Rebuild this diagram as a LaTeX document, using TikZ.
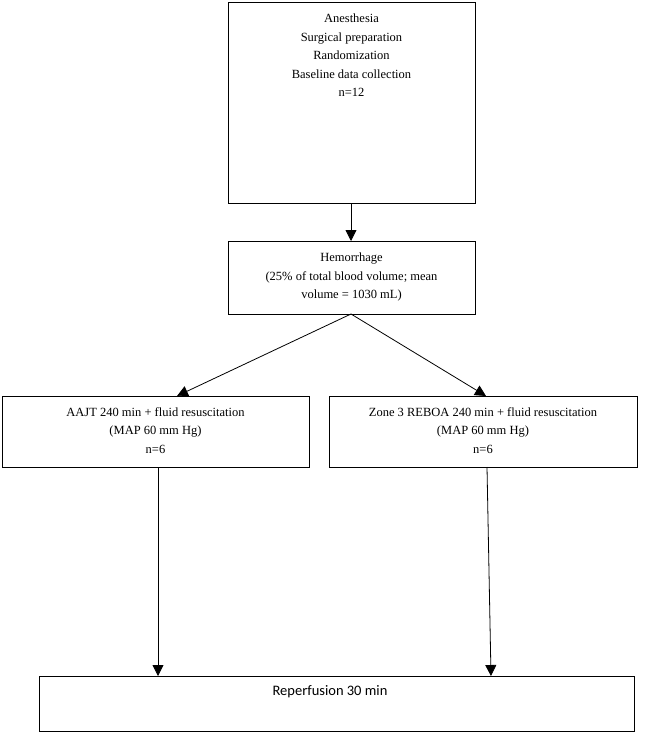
\documentclass[tikz,border=0pt]{standalone}
\usepackage{fontspec}
\setmainfont{Liberation Serif}
\newfontfamily\sansf{Carlito}
\usetikzlibrary{arrows.meta}
\begin{document}
\begin{tikzpicture}[x=1pt,y=-1pt,
  box/.style={draw,line width=0.9pt},
  txt/.style={font=\fontsize{12.5}{18.5}\selectfont,align=center,inner sep=0pt},
  arr/.style={line width=0.8pt,-{Triangle[width=11pt,length=11pt]}}]
\useasboundingbox (0,0) rectangle (646,733);
\draw[box] (228,2) rectangle (475,203);
\node[txt,anchor=north] (t) at (351.5,14) {Anesthesia\\Surgical preparation\\Randomization\\Baseline data collection\\n=12};
\draw[box] (228,241) rectangle (475,314);
\node[txt,anchor=north] (h) at (351.5,253) {Hemorrhage\\(25\% of total blood volume; mean\\volume = 1030 mL)};
\draw[box] (2,396) rectangle (309,467);
\node[txt,anchor=north] (l) at (155.5,407) {AAJT 240 min + fluid resuscitation\\(MAP 60 mm Hg)\\n=6};
\draw[box] (329,396) rectangle (637,467);
\node[txt,anchor=north] (r) at (483,407) {Zone 3 REBOA 240 min + fluid resuscitation\\(MAP 60 mm Hg)\\n=6};
\draw[box] (39,676) rectangle (634,731);
\node[txt,font=\sansf\fontsize{14.5}{16}\selectfont] (b) at (330,692) {Reperfusion 30 min};
\coordinate (t1) at (351,203); \coordinate (t2) at (351,241);
\coordinate (h1) at (351,314); \coordinate (l0) at (177,396); \coordinate (r0) at (486,396);
\coordinate (l1) at (158,467); \coordinate (l2) at (158,676);
\coordinate (r1) at (487,467); \coordinate (r2) at (491,676);
\draw[arr] (t1) -- (t2);
\draw[arr] (h1) -- (l0);
\draw[arr] (h1) -- (r0);
\draw[arr] (l1) -- (l2);
\draw[arr] (r1) -- (r2);
\end{tikzpicture}
\end{document}
